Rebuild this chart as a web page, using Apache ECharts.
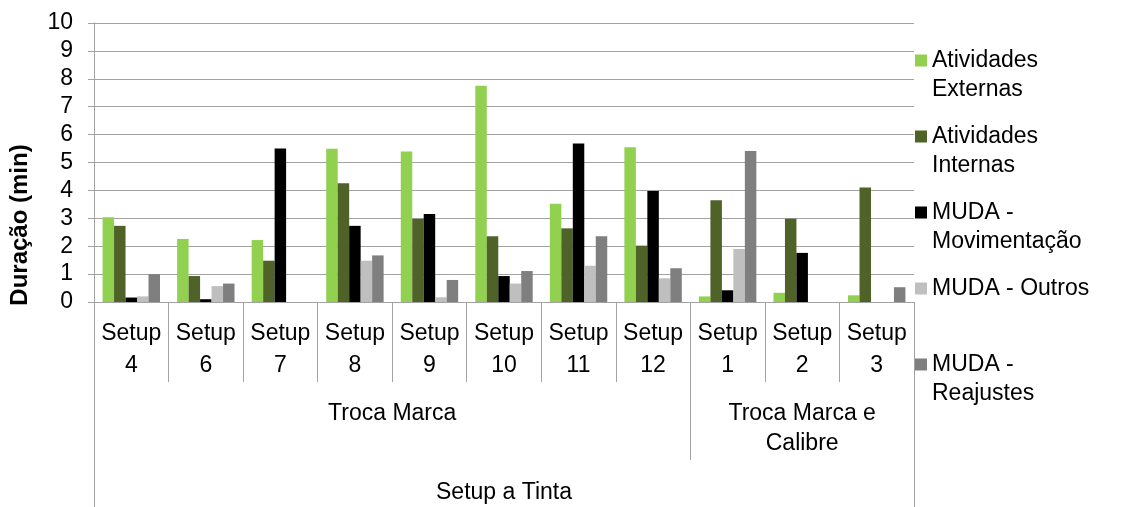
<!DOCTYPE html>
<html>
<head>
<meta charset="utf-8">
<script src="https://cdn.jsdelivr.net/npm/echarts@6/dist/echarts.min.js"></script>
<style>
  html, body { margin: 0; padding: 0; background: #ffffff; }
  #chart { width: 1123px; height: 507px; }
</style>
</head>
<body>
<div id="chart"></div>
<script>
// Setup categories (first axis level)
const categories = ['Setup\n4', 'Setup\n6', 'Setup\n7', 'Setup\n8', 'Setup\n9', 'Setup\n10',
                    'Setup\n11', 'Setup\n12', 'Setup\n1', 'Setup\n2', 'Setup\n3'];
// Second axis level: group names and the category index range each covers
const groupNames = ['Troca Marca', 'Troca Marca e\nCalibre'];
const groupSpans = [[0, 7], [8, 10]];
// Third axis level
const outerGroup = 'Setup a Tinta';

// Series (duration in minutes)
const seriesNames = ['Atividades\nExternas', 'Atividades\nInternas', 'MUDA -\nMovimentação',
                     'MUDA - Outros', 'MUDA -\nReajustes'];
const atividadesExternas = [3.04, 2.26, 2.22, 5.49, 5.39, 7.75, 3.52, 5.55, 0.20, 0.33, 0.24];
const atividadesInternas = [2.73, 0.93, 1.48, 4.26, 2.98, 2.36, 2.64, 2.02, 3.65, 2.98, 4.10];
const mudaMovimentacao   = [0.16, 0.10, 5.50, 2.73, 3.15, 0.93, 5.68, 3.98, 0.42, 1.76, 0];
const mudaOutros         = [0.20, 0.57, 0,    1.48, 0.17, 0.66, 1.30, 0.85, 1.90, 0,    0];
const mudaReajustes      = [1.00, 0.66, 0,    1.67, 0.79, 1.11, 2.36, 1.21, 5.41, 0,    0.53];
const seriesValues = [atividadesExternas, atividadesInternas, mudaMovimentacao, mudaOutros, mudaReajustes];

// Value axis
const yMin = 0, yMax = 10, yStep = 1;
const yTitle = 'Duração (min)';

const colors = ['#92d050', '#4f6228', '#000000', '#bfbfbf', '#7f7f7f'];
const FONT = '"Liberation Sans", Arial, sans-serif';
const GRID_GRAY = '#a2a2a2';
const TEXT = '#000000';

const chart = echarts.init(document.getElementById('chart'), null, { renderer: 'canvas' });

// Legend labels: every entry is laid out as three lines with its first text line in the
// middle, so the marker square sits next to the first line of the label.
function legendLabel(name) {
  return name.indexOf('\n') >= 0 ? '\n' + name : '\n' + name + '\n';
}

const option = {
  animation: false,
  backgroundColor: '#ffffff',
  color: colors,
  textStyle: { fontFamily: FONT },
  grid: { left: 94, right: 209, top: 23, bottom: 205, containLabel: false },
  legend: {
    orient: 'vertical',
    left: 915,
    top: 17,
    padding: 0,
    itemWidth: 12,
    itemHeight: 12,
    itemGap: -11,
    icon: 'rect',
    selectedMode: false,
    formatter: legendLabel,
    textStyle: { fontFamily: FONT, fontSize: 23, color: TEXT, lineHeight: 29 },
    data: seriesNames
  },
  xAxis: {
    type: 'category',
    data: categories,
    axisLine: { show: true, lineStyle: { color: GRID_GRAY, width: 1 } },
    axisTick: { show: true, interval: 0, length: 80, lineStyle: { color: GRID_GRAY, width: 1 } },
    axisLabel: {
      interval: 0, margin: 16, fontFamily: FONT, fontSize: 23, color: TEXT,
      lineHeight: 32, align: 'center'
    },
    splitLine: { show: false }
  },
  yAxis: {
    type: 'value',
    min: yMin, max: yMax, interval: yStep,
    name: yTitle,
    nameLocation: 'middle',
    nameRotate: 90,
    nameGap: 62,
    nameTextStyle: { fontFamily: FONT, fontSize: 24, fontWeight: 'bold', color: TEXT, padding: [0, 125, 0, 0] },
    axisLine: { show: true, lineStyle: { color: GRID_GRAY, width: 1 } },
    axisTick: { show: true, length: 6, lineStyle: { color: GRID_GRAY, width: 1 } },
    axisLabel: { margin: 21, fontFamily: FONT, fontSize: 23, color: TEXT },
    splitLine: { show: true, lineStyle: { color: GRID_GRAY, width: 1 } }
  },
  series: seriesNames.map((n, i) => ({
    name: n,
    type: 'bar',
    data: seriesValues[i],
    barGap: '0%',
    barCategoryGap: '23%',
    itemStyle: { color: colors[i] }
  }))
};

chart.setOption(option);

// Lower axis levels: group labels and their dividers, placed from the category scale
function drawAxisGroups() {
  const xAt = i => chart.convertToPixel({ xAxisIndex: 0 }, i);
  const band = xAt(1) - xAt(0);
  const yBase = chart.convertToPixel({ yAxisIndex: 0 }, yMin);
  const H = chart.getHeight();
  const lineStyle = { stroke: GRID_GRAY, lineWidth: 1 };
  const els = [];

  groupSpans.forEach((span, gi) => {
    const left = xAt(span[0]) - band / 2;
    const right = xAt(span[span.length - 1]) + band / 2;
    els.push({
      type: 'text', silent: true,
      style: {
        text: groupNames[gi], x: (left + right) / 2, y: yBase + 97,
        align: 'center', verticalAlign: 'top',
        font: '23px ' + FONT, lineHeight: 30, fill: TEXT
      }
    });
    if (gi > 0) {
      els.push({ type: 'line', silent: true, shape: { x1: Math.round(left) + 0.5, y1: yBase, x2: Math.round(left) + 0.5, y2: yBase + 158 }, style: lineStyle });
    }
  });

  const first = xAt(0) - band / 2;
  const last = xAt(categories.length - 1) + band / 2;
  [first, last].forEach(x => {
    els.push({ type: 'line', silent: true, shape: { x1: Math.round(x) + 0.5, y1: yBase, x2: Math.round(x) + 0.5, y2: H }, style: lineStyle });
  });
  els.push({
    type: 'text', silent: true,
    style: {
      text: outerGroup, x: (first + last) / 2, y: yBase + 191,
      align: 'center', verticalAlign: 'middle',
      font: '23px ' + FONT, fill: TEXT
    }
  });

  chart.setOption({ graphic: els });
}
drawAxisGroups();
</script>
</body>
</html>
